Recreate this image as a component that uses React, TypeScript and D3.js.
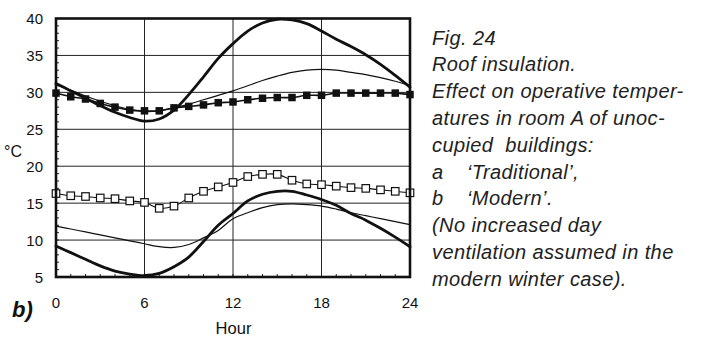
import React from "react";
import * as d3 from "d3";

// Hour of day, one point per hour
const hours = [0, 1, 2, 3, 4, 5, 6, 7, 8, 9, 10, 11, 12, 13, 14, 15, 16, 17, 18, 19, 20, 21, 22, 23, 24];

// Operative temperatures, °C
const summerThick = [31.2, 30.2, 29.2, 28.2, 27.3, 26.6, 26.1, 26.4, 27.6, 29.7, 32.1, 34.6, 36.6, 38.3, 39.4, 39.9, 39.8, 39.3, 38.3, 37.2, 36.2, 35.1, 33.8, 32.3, 30.7];
const summerThin = [31.0, 30.3, 29.5, 28.8, 28.2, 27.7, 27.4, 27.5, 27.9, 28.4, 29.0, 29.6, 30.2, 30.9, 31.6, 32.2, 32.7, 33.0, 33.1, 33.0, 32.7, 32.4, 32.0, 31.5, 30.9];
const summerSquares = [29.9, 29.4, 29.1, 28.5, 28.0, 27.6, 27.5, 27.5, 27.9, 28.1, 28.3, 28.6, 28.7, 29.0, 29.2, 29.3, 29.3, 29.6, 29.6, 29.9, 29.9, 29.9, 29.9, 29.9, 29.7];
const winterSquares = [16.3, 16.0, 15.9, 15.7, 15.6, 15.3, 15.1, 14.3, 14.6, 15.7, 16.6, 17.2, 17.8, 18.6, 18.9, 18.9, 18.1, 17.6, 17.5, 17.3, 17.1, 17.0, 16.8, 16.6, 16.4];
const winterThin = [11.9, 11.5, 11.1, 10.7, 10.3, 9.9, 9.5, 9.1, 9.0, 9.4, 10.3, 11.3, 12.9, 13.7, 14.4, 14.8, 14.9, 14.8, 14.6, 14.2, 13.7, 13.3, 12.9, 12.5, 12.1];
const winterThick = [9.2, 8.3, 7.4, 6.5, 5.8, 5.4, 5.2, 5.5, 6.4, 7.7, 9.8, 12.0, 13.6, 15.3, 16.2, 16.6, 16.6, 16.1, 15.5, 14.7, 13.6, 12.7, 11.6, 10.4, 9.1];

const xTicks = [0, 6, 12, 18, 24];
const yTicks = [5, 10, 15, 20, 25, 30, 35, 40];

const captionLines = [
  "Fig. 24",
  "Roof insulation.",
  "Effect on operative temper-",
  "atures in room A of unoc-",
  "cupied\u00a0 buildings:",
  "a",
  "b",
  "(No increased day",
  "ventilation assumed in the",
  "modern winter case).",
];
const captionLabels = ["", "", "", "", "", "\u2018Traditional\u2019,", "\u2018Modern\u2019.", "", "", ""];

const W = 703;
const H = 338;
const left = 56;
const right = 410;
const top = 18.5;
const bottom = 277;

export default function App() {
  const x = d3.scaleLinear().domain([0, 24]).range([left, right]);
  const y = d3.scaleLinear().domain([5, 40]).range([bottom, top]);

  const line = (vals: number[]) =>
    d3
      .line<number>()
      .x((_, i) => x(hours[i]))
      .y((v) => y(v))
      .curve(d3.curveCatmullRom.alpha(0.5))(vals) || "";

  const font = "'Liberation Sans', Arial, Helvetica, sans-serif";
  const sq = 7.5;

  return (
    <svg
      width={W}
      height={H}
      viewBox={`0 0 ${W} ${H}`}
      style={{ position: "absolute", left: 0, top: 0, background: "#fff" }}
    >
      <rect x={0} y={0} width={W} height={H} fill="#fff" />

      {/* grid */}
      <g stroke="#222" strokeWidth={1}>
        {[10, 15, 20, 25, 30, 35].map((t) => (
          <line key={"gy" + t} x1={left} x2={right} y1={y(t)} y2={y(t)} />
        ))}
        {[6, 12, 18].map((t) => (
          <line key={"gx" + t} x1={x(t)} x2={x(t)} y1={top} y2={bottom} />
        ))}
      </g>

      {/* minor ticks */}
      <g stroke="#222" strokeWidth={1}>
        {hours.map((h) => (
          <line key={"tx" + h} x1={x(h)} x2={x(h)} y1={bottom} y2={bottom - 3} />
        ))}
        {d3.range(5, 41).map((v) => (
          <line key={"ty" + v} x1={left} x2={left + 3} y1={y(v)} y2={y(v)} />
        ))}
      </g>

      {/* curves */}
      <g fill="none" stroke="#111" strokeLinejoin="round" strokeLinecap="round">
        <path d={line(summerThin)} strokeWidth={1.2} />
        <path d={line(winterThin)} strokeWidth={1.2} />
        <path d={line(summerThick)} strokeWidth={2.8} />
        <path d={line(winterThick)} strokeWidth={2.8} />
        <path d={line(summerSquares)} strokeWidth={1.6} />
        <path d={line(winterSquares)} strokeWidth={1.1} />
      </g>

      {/* markers */}
      <g>
        {summerSquares.map((v, i) => (
          <rect
            key={"fs" + i}
            x={x(hours[i]) - sq / 2}
            y={y(v) - sq / 2}
            width={sq}
            height={sq}
            fill="#111"
          />
        ))}
        {winterSquares.map((v, i) => (
          <rect
            key={"os" + i}
            x={x(hours[i]) - sq / 2}
            y={y(v) - sq / 2}
            width={sq}
            height={sq}
            fill="#fff"
            stroke="#111"
            strokeWidth={1.2}
          />
        ))}
      </g>

      {/* frame */}
      <rect
        x={left}
        y={top}
        width={right - left}
        height={bottom - top}
        fill="none"
        stroke="#111"
        strokeWidth={2.6}
      />

      {/* axis labels */}
      <g fontFamily={font} fill="#111">
        {yTicks.map((t) => (
          <text key={"yl" + t} x={43} y={y(t) + 5.5} fontSize={15} textAnchor="end">
            {t}
          </text>
        ))}
        {xTicks.map((t) => (
          <text key={"xl" + t} x={x(t)} y={307.5} fontSize={15} textAnchor="middle">
            {t}
          </text>
        ))}
        <text x={233.5} y={334} fontSize={16.5} textAnchor="middle">
          Hour
        </text>
        <text x={13} y={156.5} fontSize={16} textAnchor="middle">
          °C
        </text>
        <text x={12} y={317} fontSize={22} fontWeight="bold" fontStyle="italic">
          b)
        </text>
      </g>

      {/* caption */}
      <g fontFamily={font} fontStyle="italic" fontSize={20} fill="#222" letterSpacing={0.4}>
        {captionLines.map((s, i) => (
          <text key={"c" + i} x={432} y={44.5 + i * 26.8} xmlSpace="preserve">
            {s}
          </text>
        ))}
        {captionLabels.map((s, i) =>
          s ? (
            <text key={"cl" + i} x={467} y={44.5 + i * 26.8}>
              {s}
            </text>
          ) : null
        )}
      </g>
    </svg>
  );
}
